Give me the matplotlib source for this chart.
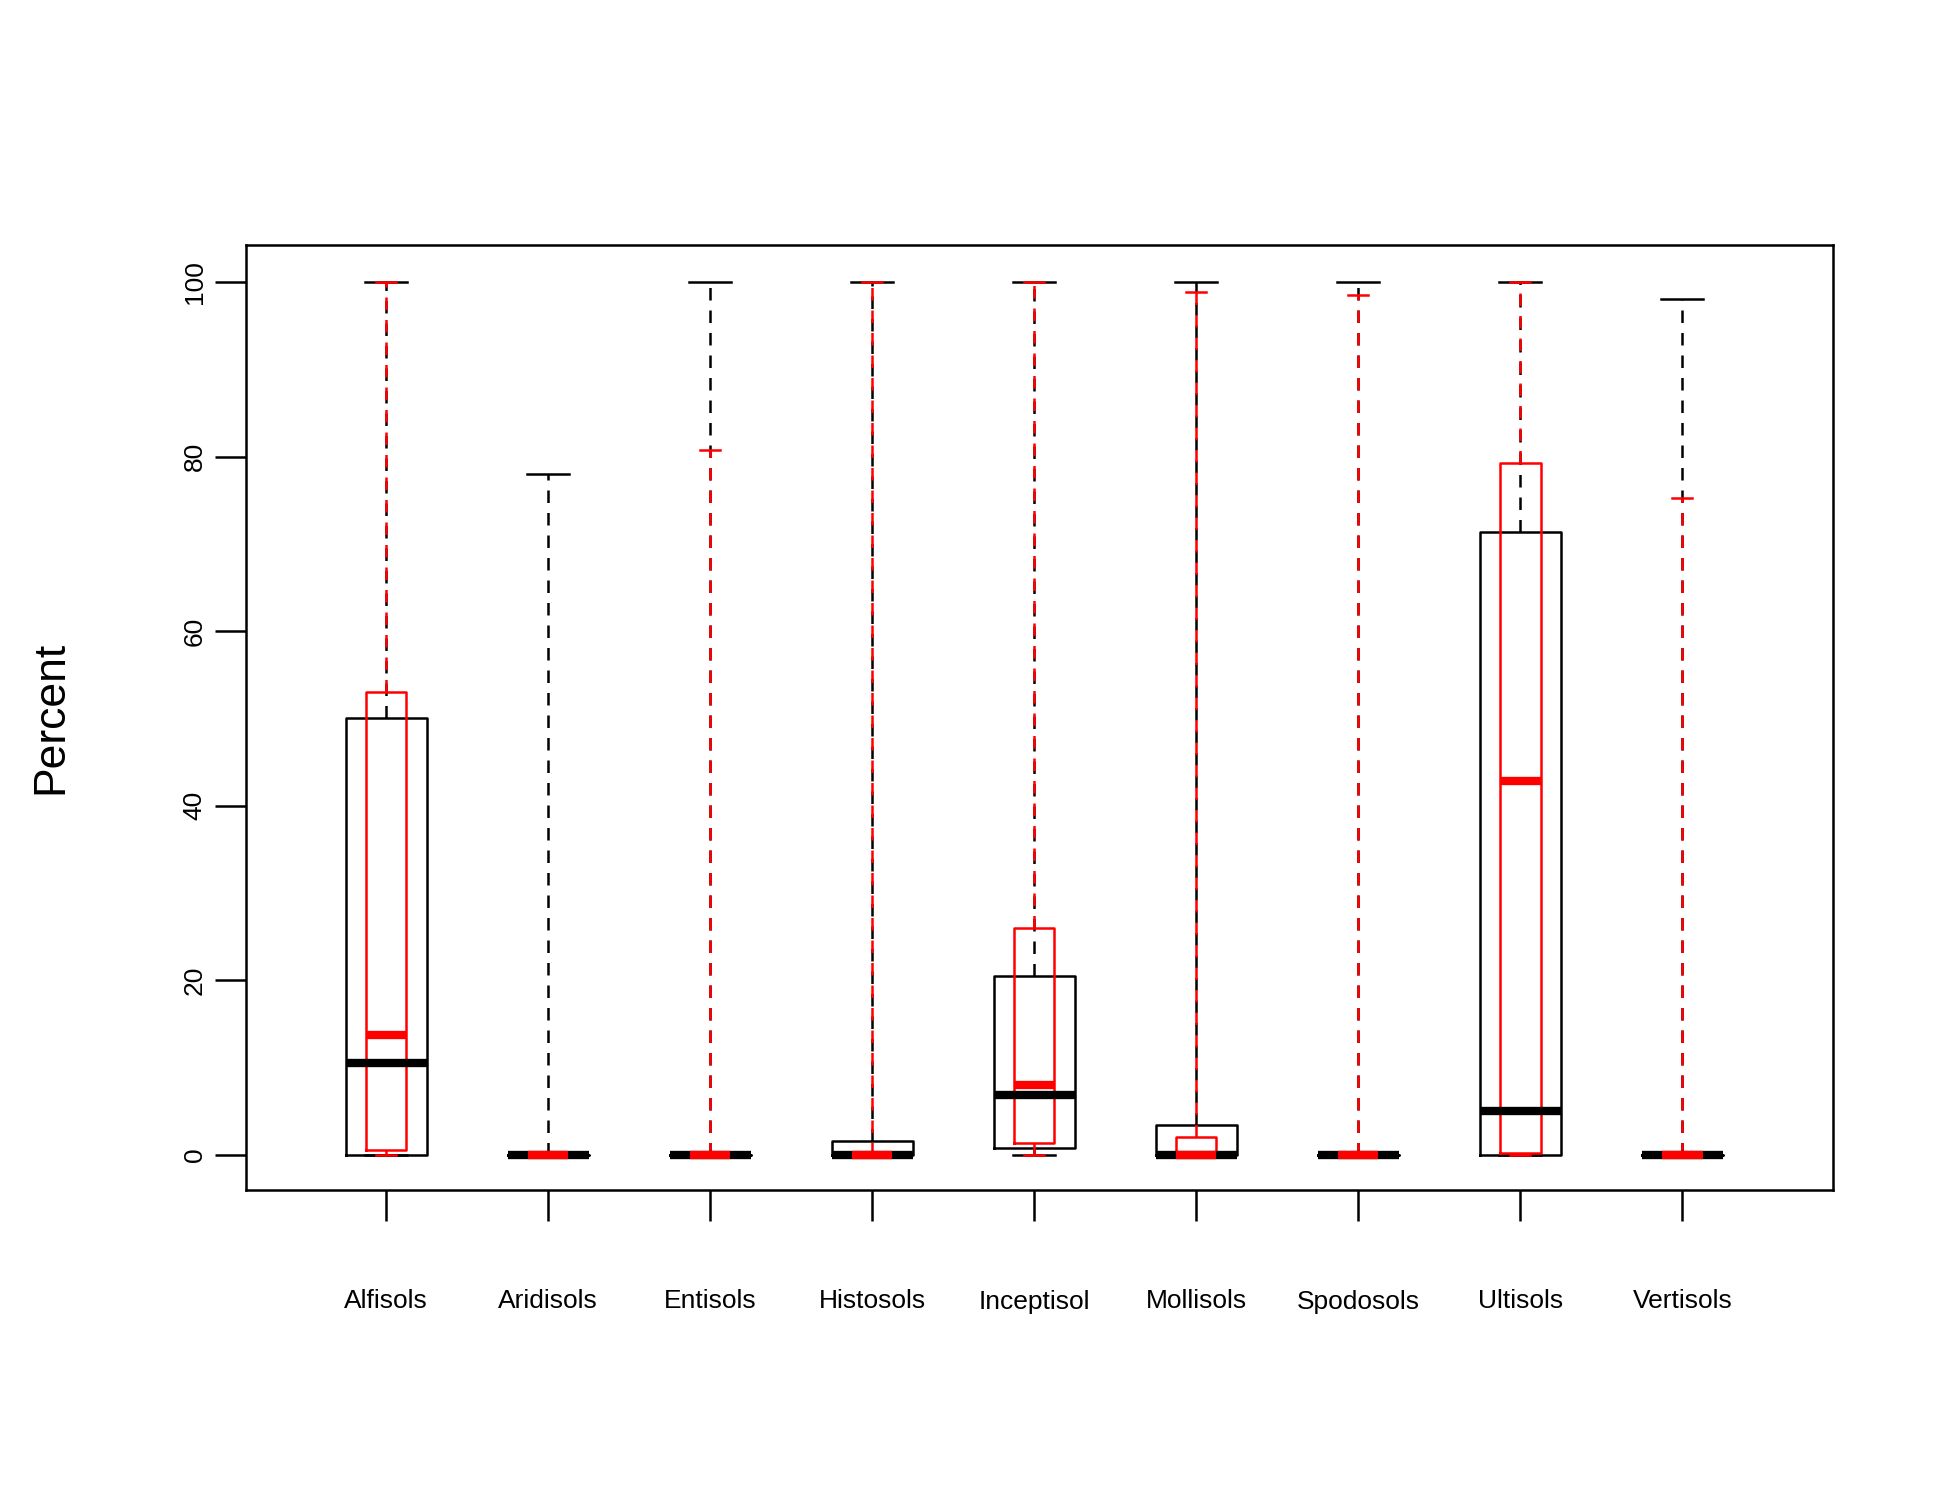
import matplotlib.pyplot as plt

plt.rcParams["font.family"] = "Liberation Sans"

categories = ["Alfisols", "Aridisols", "Entisols", "Histosols", "Inceptisol",
              "Mollisols", "Spodosols", "Ultisols", "Vertisols"]

# (whislo, q1, median, q3, whishi)
black_stats = [
    (0, 0, 10.5, 50.0, 100),
    (0, 0, 0, 0, 78),
    (0, 0, 0, 0, 100),
    (0, 0, 0, 1.6, 100),
    (0, 0.8, 6.8, 20.5, 100),
    (0, 0, 0, 3.4, 100),
    (0, 0, 0, 0, 100),
    (0, 0, 5.0, 71.3, 100),
    (0, 0, 0, 0, 98),
]
red_stats = [
    (0, 0.5, 13.7, 53.0, 100),
    (0, 0, 0, 0, 0),
    (0, 0, 0, 0, 80.7),
    (0, 0, 0, 0, 100),
    (0, 1.3, 8.0, 26.0, 100),
    (0, 0, 0, 2.0, 98.8),
    (0, 0, 0, 0, 98.5),
    (0, 0.2, 42.8, 79.3, 100),
    (0, 0, 0, 0, 75.3),
]
yticks = [0, 20, 40, 60, 80, 100]


def to_bxp(stats):
    return [dict(whislo=a, q1=b, med=c, q3=d, whishi=e, fliers=[])
            for a, b, c, d, e in stats]


fig = plt.figure(figsize=(19.5, 15), dpi=100)
ax = fig.add_axes([0.126, 0.207, 0.814, 0.63])
pos = list(range(1, len(categories) + 1))

for stats, color, width, capw in [(black_stats, "black", 0.5, 0.26),
                                  (red_stats, "red", 0.25, 0.125)]:
    ax.bxp(to_bxp(stats), positions=pos, widths=width, capwidths=capw,
           showfliers=False,
           boxprops=dict(color=color, linewidth=1.8),
           whiskerprops=dict(color=color, linewidth=1.8, linestyle=(0, (5, 4))),
           capprops=dict(color=color, linewidth=1.8),
           medianprops=dict(color=color, linewidth=6, solid_capstyle="butt"))

ax.set_xlim(0.134, 9.93)
ax.set_ylim(-4, 104.3)
ax.set_xticks(pos)
ax.set_xticklabels(categories, fontsize=19)
ax.set_yticks(yticks)
ax.set_yticklabels([str(t) for t in yticks], fontsize=19, rotation=90, va="center")
ax.tick_params(axis="both", length=22, width=1.8, pad=6)
ax.tick_params(axis="x", pad=50)
for s in ax.spines.values():
    s.set_linewidth(1.8)
ax.set_ylabel("Percent", fontsize=32, labelpad=80)

fig.savefig("out.png", dpi=100)
